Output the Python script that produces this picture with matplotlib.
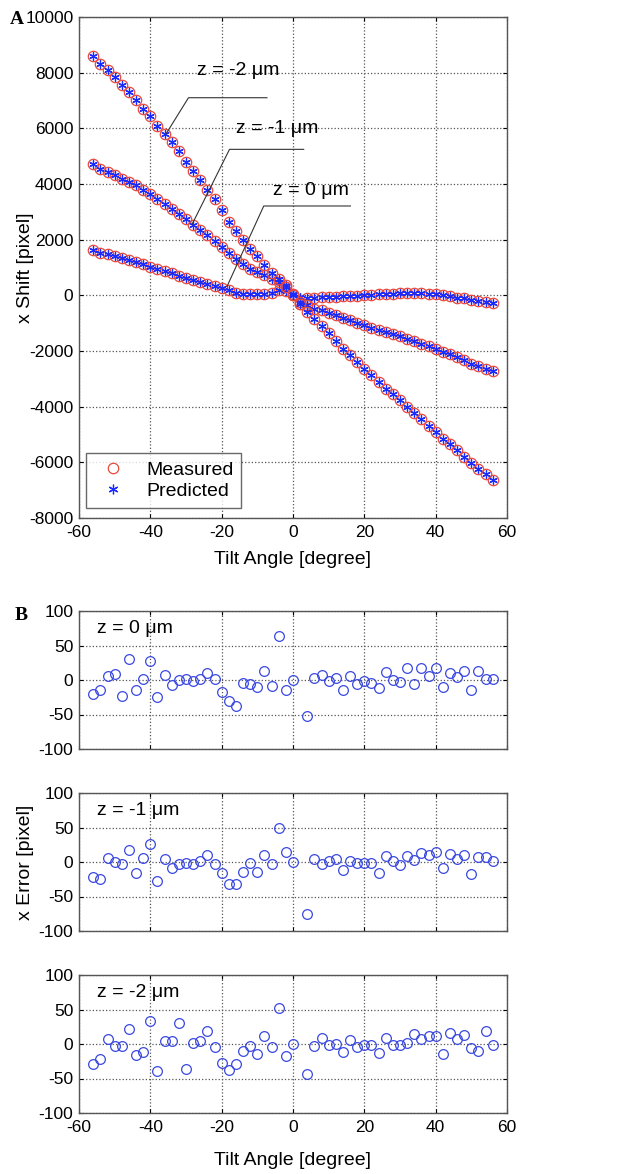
import numpy as np
import matplotlib.pyplot as plt

plt.rcParams['font.family'] = ['Liberation Sans', 'DejaVu Sans']
plt.rcParams['axes.unicode_minus'] = False

# Tilt angles (degree)
angles = list(range(-56, 58, 2))

# x shift [pixel] (predicted; measured coincide except noted)
shift_z0 = [1640, 1530, 1470, 1410, 1350, 1260, 1190, 1110, 1020, 960, 870, 800, 710, 630,
            540, 480, 400, 320, 250, 180, 100, 60, 60, 60, 60, 80, 180, 150, 0,
            -60, -90, -80, -70, -60, -50, -40, -30, -20, 0, 10, 30, 50, 60, 80, 90, 100,
            100, 60, 30, 0, -40, -80, -110, -160, -200, -240, -280]
shift_z1 = [4730, 4550, 4430, 4310, 4190, 4070, 3950, 3770, 3650, 3470, 3290, 3110, 2930, 2750,
            2510, 2330, 2150, 1970, 1740, 1520, 1320, 1140, 960, 840, 720, 600, 480, 360, 60,
            -250, -360, -480, -540, -630, -720, -810, -900, -990, -1080, -1160, -1230, -1320,
            -1380, -1470, -1560, -1650, -1740, -1830, -1940, -2040, -2120, -2220, -2340,
            -2460, -2550, -2630, -2720]
shift_z2 = [8600, 8320, 8080, 7830, 7560, 7320, 7000, 6700, 6450, 6100, 5800, 5500, 5200, 4800,
            4450, 4150, 3800, 3450, 3050, 2650, 2300, 2000, 1650, 1400, 1100, 800, 600, 300, 0,
            -300, -600, -840, -1100, -1350, -1640, -1920, -2160, -2400, -2630, -2870, -3110,
            -3350, -3560, -3770, -4010, -4230, -4430, -4690, -4910, -5150, -5350, -5570,
            -5810, -6020, -6230, -6430, -6650]
# measured outlier at +2 degree for z = 0
meas_z0 = list(shift_z0)
meas_z0[29] = -300

# x error [pixel], panel B (no value at +2 degree)
err_z0 = [-21, -14, 6, 9, -23, 30, -14, 2, 28, -25, 7, -7, 0, 1, -2, 1, 10, 1, -17, -30,
          -38, -5, -6, -10, 13, -9, 64, -14, 0, np.nan, -52, 3, 7, -2, 3, -15, 6, -6, -2, -4,
          -11, 11, 0, -3, 17, -6, 18, 6, 18, -10, 10, 5, 13, -15, 13, 2, 1]
err_z1 = [-22, -24, 6, 0, -3, 17, -16, 6, 26, -28, 5, -8, -3, -2, -3, 1, 10, -3, -16, -32,
          -32, -14, -2, -14, 10, -3, 50, 15, 0, np.nan, -75, 5, -3, 2, 5, -11, 2, -1, -2, -2,
          -16, 8, 2, -5, 8, 3, 13, 10, 15, -9, 12, 5, 10, -17, 7, 7, 1]
err_z2 = [-29, -22, 7, -3, -3, 22, -16, -11, 34, -39, 4, 4, 30, -36, 2, 4, 19, -4, -28, -38,
          -29, -10, -3, -14, 11, -5, 52, -17, 0, np.nan, -43, -3, 8, -2, 0, -11, 6, -4, -2, -2,
          -13, 9, -1, -1, 1, 15, 7, 12, 12, -15, 16, 7, 13, -6, -10, 19, -1]

z_labels = ['z = 0 \u03bcm', 'z = -1 \u03bcm', 'z = -2 \u03bcm']

FS = 14      # labels
TFS = 12.5   # tick labels
fig = plt.figure(figsize=(6.29, 11.74), dpi=100)

def style_axes(ax):
    ax.grid(True, linestyle=':', color='#555555', linewidth=0.9)
    ax.tick_params(direction='in', length=3, top=True, right=True, labelsize=TFS)
    ax.tick_params(axis='x', pad=5)
    ax.tick_params(axis='y', pad=4)
    for s in ax.spines.values():
        s.set_color('#555555')
        s.set_linewidth(1.0)

# Panel A
axA = fig.add_axes([79 / 629, 1 - 518 / 1174, 428 / 629, 501 / 1174])
for meas, pred in [(meas_z0, shift_z0), (shift_z1, shift_z1), (shift_z2, shift_z2)]:
    axA.plot(angles, meas, 'o', mfc='none', mec='#e8493c', ms=7.5, mew=0.9)
    axA.plot(angles, pred, marker=(6, 2, 0), ls='none', color='#1a2bff', ms=6, mew=0.9)
axA.set_xlim(-60, 60)
axA.set_ylim(-8000, 10000)
axA.set_xticks(range(-60, 61, 20))
axA.set_yticks(range(-8000, 10001, 2000))
style_axes(axA)
axA.set_xlabel('Tilt Angle [degree]', fontsize=FS, va='top')
axA.xaxis.set_label_coords(0.5, -0.066)
axA.set_ylabel('x Shift [pixel]', fontsize=FS)
axA.yaxis.set_label_coords(-0.105, 0.5)

h1, = axA.plot([], [], 'o', mfc='none', mec='#e8493c', ms=7.5, mew=0.9)
h2, = axA.plot([], [], marker=(6, 2, 0), ls='none', color='#1a2bff', ms=7, mew=0.9)
leg = axA.legend([h1, h2], ['Measured', 'Predicted'], loc='lower left',
                 bbox_to_anchor=(0.016, 0.02), fancybox=False, edgecolor='#444444',
                 fontsize=FS, borderaxespad=0, handletextpad=0.7, labelspacing=0.2,
                 borderpad=0.4)
leg.get_frame().set_linewidth(1.0)

# callout lines
callouts = [('z = -2 \u03bcm', (-35.6, 5800), (-29.3, 7100), (-7.3, 7100), (-15.5, 8080)),
            ('z = -1 \u03bcm', (-28.3, 2550), (-17.8, 5245), (3.0, 5245), (-4.5, 6010)),
            ('z = 0 \u03bcm', (-18.5, 320), (-8.2, 3210), (16.1, 3210), (4.9, 3770))]
for txt, p0, p1, p2, pt in callouts:
    axA.plot([p0[0], p1[0], p2[0]], [p0[1], p1[1], p2[1]], color='#333333', lw=0.8)
    axA.text(pt[0], pt[1], txt, fontsize=FS, ha='center', va='center')

fig.text(10 / 629, 1 - 19 / 1174, 'A', fontsize=14, fontweight='bold',
         family='Liberation Serif', va='center')

# Panel B
tops = [611, 793, 975]
for i, (err, lab) in enumerate(zip([err_z0, err_z1, err_z2], z_labels)):
    ax = fig.add_axes([79 / 629, 1 - (tops[i] + 138) / 1174, 428 / 629, 138 / 1174])
    ax.plot(angles, err, 'o', mfc='none', mec='#3a48e0', ms=7, mew=0.9)
    ax.set_xlim(-60, 60)
    ax.set_ylim(-100, 100)
    ax.set_xticks(range(-60, 61, 20))
    ax.set_yticks([-100, -50, 0, 50, 100])
    style_axes(ax)
    ax.text(-55, 75, lab, fontsize=FS, va='center', ha='left')
    if i < 2:
        ax.set_xticklabels([])
    else:
        ax.set_xlabel('Tilt Angle [degree]', fontsize=FS, va='top')
        ax.xaxis.set_label_coords(0.5, -0.28)
    if i == 1:
        ax.set_ylabel('x Error [pixel]', fontsize=FS)
        ax.yaxis.set_label_coords(-0.105, 0.5)

fig.text(15 / 629, 1 - 616 / 1174, 'B', fontsize=14, fontweight='bold',
         family='Liberation Serif', va='center')

fig.savefig('out.png', dpi=100)
